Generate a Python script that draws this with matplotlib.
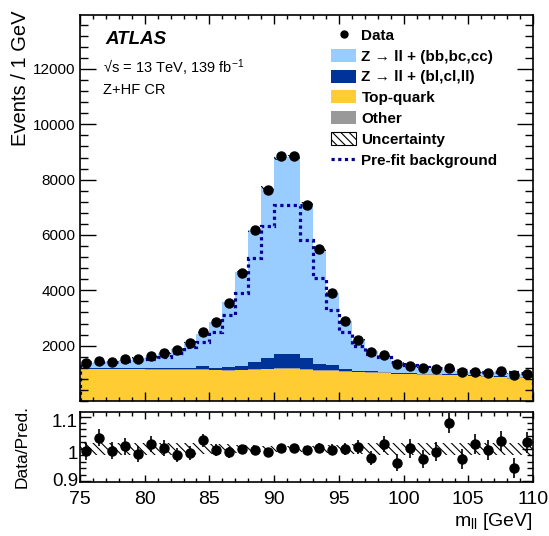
import matplotlib
matplotlib.use('Agg')
import matplotlib.pyplot as plt
import matplotlib.transforms as mtransforms
import numpy as np
from matplotlib.lines import Line2D
from matplotlib.patches import Patch
from matplotlib.ticker import MultipleLocator

plt.rcParams['font.family'] = ['Liberation Sans', 'DejaVu Sans']
plt.rcParams['mathtext.fontset'] = 'custom'
plt.rcParams['mathtext.rm'] = 'Liberation Sans'
plt.rcParams['mathtext.it'] = 'Liberation Sans:italic'
plt.rcParams['mathtext.bf'] = 'Liberation Sans:bold'
plt.rcParams['hatch.linewidth'] = 0.8

# m_ll bins, 1 GeV wide from 75 to 110
edges = np.arange(75, 111, 1)

data = [1377, 1449, 1424, 1506, 1532, 1615, 1737, 1856, 2098, 2505,
        2840, 3539, 4642, 6170, 7633, 8837, 8837, 7096, 5496, 3900,
        2876, 2216, 1773, 1651, 1333, 1254, 1178, 1142, 1200, 1056,
        1056, 1020, 1067, 937, 991]

top = [1150, 1148, 1145, 1142, 1140, 1137, 1135, 1130, 1125, 1125,
       1110, 1100, 1115, 1130, 1140, 1160, 1160, 1135, 1100, 1095,
       1065, 1040, 1027, 1015, 970, 960, 955, 945, 930, 925,
       895, 885, 870, 800, 835]

other = [15, 15, 15, 15, 15, 15, 15, 15, 15, 15,
         15, 15, 15, 15, 15, 15, 15, 15, 15, 15,
         15, 15, 15, 15, 15, 15, 15, 15, 15, 15,
         15, 15, 15, 15, 15]

zlf = [35, 35, 35, 35, 35, 35, 40, 40, 40, 115,
       60, 130, 150, 280, 390, 510, 510, 420, 240, 175,
       65, 40, 25, 20, 20, 20, 20, 20, 20, 20,
       20, 20, 20, 20, 20]

zhf = [187, 202, 236, 301, 368, 403, 542, 707, 943, 1184,
       1666, 2330, 3367, 4764, 6150, 7126, 7126, 5547, 4119, 2623,
       1731, 1108, 757, 577, 388, 257, 226, 172, 147, 130,
       111, 104, 137, 161, 101]

prefit = [1400, 1410, 1420, 1450, 1470, 1510, 1590, 1730, 1950, 2150,
          2500, 3090, 3900, 5150, 6330, 7070, 7070, 5820, 4460, 3300,
          2480, 2000, 1700, 1580, 1420, 1290, 1230, 1180, 1140, 1110,
          1080, 1060, 1050, 1030, 1010]

unc_rel = [0.018, 0.018, 0.018, 0.018, 0.018, 0.018, 0.018, 0.018, 0.018, 0.017,
           0.016, 0.014, 0.012, 0.011, 0.010, 0.010, 0.010, 0.010, 0.011, 0.012,
           0.014, 0.016, 0.017, 0.018, 0.018, 0.018, 0.018, 0.018, 0.018, 0.018,
           0.018, 0.018, 0.018, 0.018, 0.018]

c_zhf = '#99ccff'
c_zlf = '#003399'
c_top = '#ffcc33'
c_other = '#999999'
c_pre = '#000099'
hatch = '\\\\\\\\'

W, H = 549, 536
fig = plt.figure(figsize=(W / 100, H / 100), dpi=100)
ax = fig.add_axes([80 / W, 1 - 401 / H, 453 / W, 386 / H])
rax = fig.add_axes([80 / W, 1 - 482.3 / H, 453 / W, 70 / H])

centers = 0.5 * (edges[:-1] + edges[1:])
data = np.array(data, dtype=float)

# stacked backgrounds
base = np.zeros(len(data))
for vals, col in [(top, c_top), (other, c_other), (zlf, c_zlf), (zhf, c_zhf)]:
    vals = np.array(vals, dtype=float)
    ax.stairs(base + vals, edges, baseline=base, fill=True, color=col, lw=0)
    base = base + vals
total = base
unc = np.array(unc_rel)

lo = total * (1 - unc)
hi = total * (1 + unc)
ax.fill_between(edges, np.append(lo, lo[-1]), np.append(hi, hi[-1]), step='post',
                facecolor='none', edgecolor='k', hatch=hatch, lw=0)
ax.stairs(prefit, edges, color=c_pre, lw=2.3, ls=(0, (1, 1.1)))
ax.errorbar(centers, data, yerr=np.sqrt(data), fmt='o', color='k', ms=6.5,
            elinewidth=1.2, capsize=0, zorder=5)

ax.set_xlim(75, 110)
ax.set_ylim(0, 13950)
ax.set_yticks(np.arange(2000, 13000, 2000))
ax.yaxis.set_minor_locator(MultipleLocator(400))
ax.xaxis.set_major_locator(MultipleLocator(5))
ax.xaxis.set_minor_locator(MultipleLocator(1))
ax.tick_params(which='both', direction='in', top=True, right=True, labelbottom=False,
               width=1.0, labelsize=11)
ax.tick_params(axis='y', which='major', length=11.5)
ax.tick_params(axis='y', which='minor', length=5.8)
ax.tick_params(axis='x', which='major', length=6.5)
ax.tick_params(axis='x', which='minor', length=3.2)
for sp in ax.spines.values():
    sp.set_linewidth(1.2)

# ratio panel
ratio = data / total
r_lo = 1 - unc
r_hi = 1 + unc
rax.fill_between(edges, np.append(r_lo, r_lo[-1]), np.append(r_hi, r_hi[-1]), step='post',
                 facecolor='none', edgecolor='k', hatch=hatch, lw=0)
rax.errorbar(centers, ratio, yerr=np.sqrt(data) / total, fmt='o', color='k', ms=6.5,
             elinewidth=1.2, capsize=0, zorder=5)
rax.set_xlim(75, 110)
rax.set_ylim(0.897, 1.113)
rax.set_yticks([0.9, 1.0, 1.1])
rax.set_yticklabels(['0.9', '1', '1.1'])
rax.yaxis.set_minor_locator(MultipleLocator(0.02))
rax.xaxis.set_major_locator(MultipleLocator(5))
rax.xaxis.set_minor_locator(MultipleLocator(1))
rax.tick_params(which='both', direction='in', top=True, right=True, width=1.0)
rax.tick_params(axis='x', labelsize=14, pad=6)
rax.tick_params(axis='y', labelsize=13.5, pad=1.5)
rax.tick_params(axis='y', which='major', length=8)
rax.tick_params(axis='y', which='minor', length=4.3)
rax.tick_params(axis='x', which='major', length=5)
rax.tick_params(axis='x', which='minor', length=3)
# nudge ratio labels vertically (lowest one up so it clears the x labels)
for lab, dy in zip(rax.get_yticklabels(), [2, -4, -4]):
    shift = mtransforms.ScaledTranslation(0, dy / 100, fig.dpi_scale_trans)
    lab.set_transform(lab.get_transform() + shift)
for sp in rax.spines.values():
    sp.set_linewidth(1.2)

# axis titles
fig.text(21 / W, 1 - 10 / H, 'Events / 1 GeV', rotation=90, ha='center', va='top', fontsize=14.5)
fig.text(22 / W, 1 - 447 / H, 'Data/Pred.', rotation=90, ha='center', va='center', fontsize=12.5)
fig.text(533 / W, 1 - 522 / H, r'm$_{\rm ll}$ [GeV]', ha='right', va='center', fontsize=14)

# labels
fig.text(105 / W, 1 - 40 / H, 'ATLAS', style='italic', weight='bold', fontsize=13.5, va='center')
fig.text(103 / W, 1 - 68 / H, '\u221As = 13 TeV, 139 fb$^{-1}$', fontsize=10.5, va='center')
fig.text(103 / W, 1 - 90 / H, 'Z+HF CR', fontsize=10.5, va='center')

handles = [
    Line2D([], [], marker='o', color='k', ls='none', ms=5),
    Patch(facecolor=c_zhf),
    Patch(facecolor=c_zlf),
    Patch(facecolor=c_top),
    Patch(facecolor=c_other),
    Patch(facecolor='white', edgecolor='k', hatch=hatch, lw=0.8),
    Line2D([], [], color=c_pre, ls=(0, (1, 1.1)), lw=2.3),
]
labels = ['Data', 'Z \u2192 ll + (bb,bc,cc)', 'Z \u2192 ll + (bl,cl,ll)', 'Top-quark',
          'Other', 'Uncertainty', 'Pre-fit background']
ax.legend(handles, labels, loc='upper left', bbox_to_anchor=((331 - 80) / 453, (401 - 28) / 386),
          frameon=False, borderaxespad=0, borderpad=0, handlelength=1.64, handleheight=0.92,
          handletextpad=0.35, labelspacing=0.40, prop={'weight': 'bold', 'size': 11})

fig.savefig('out.png', dpi=100)
